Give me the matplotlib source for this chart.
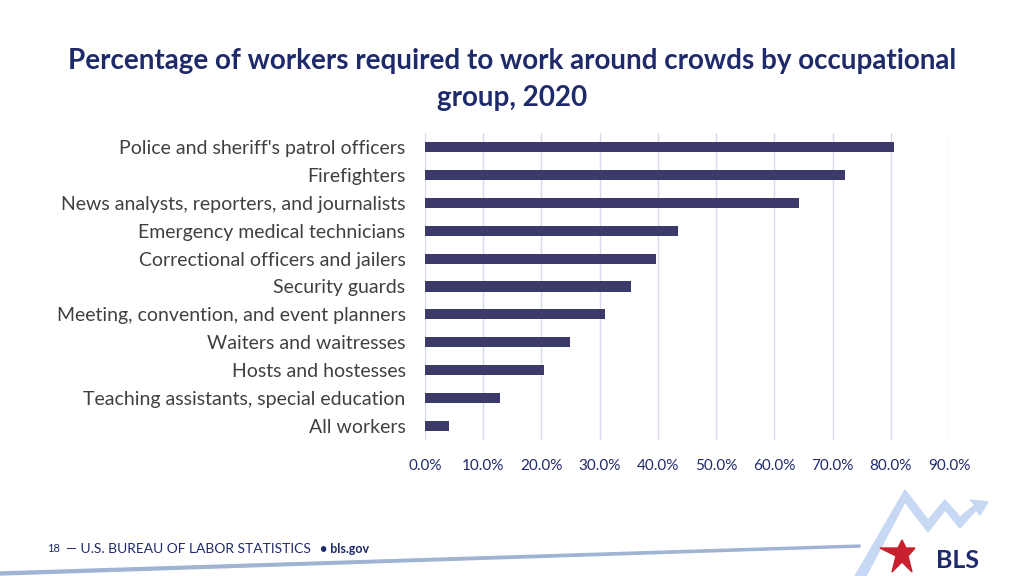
import matplotlib.pyplot as plt
from matplotlib.ticker import FuncFormatter
from matplotlib.patches import Polygon

# Data
occupations = [
    "Police and sheriff's patrol officers",
    "Firefighters",
    "News analysts, reporters, and journalists",
    "Emergency medical technicians",
    "Correctional officers and jailers",
    "Security guards",
    "Meeting, convention, and event planners",
    "Waiters and waitresses",
    "Hosts and hostesses",
    "Teaching assistants, special education",
    "All workers",
]
percent = [80.6, 72.1, 64.3, 43.5, 39.6, 35.4, 31.0, 24.9, 20.5, 12.8, 4.1]
x_ticks = [0, 10, 20, 30, 40, 50, 60, 70, 80, 90]

navy = '#1f2a6b'
bar_color = '#3c3a6a'

plt.rcParams['font.family'] = ['Lato', 'DejaVu Sans']

W, H = 1024, 576
fig = plt.figure(figsize=(10.24, 5.76), dpi=100)
ax = fig.add_axes([425 / W, 1 - 440 / H, (949 - 425) / W, (440 - 133) / H])

ypos = list(range(len(occupations)))
ax.barh(ypos, percent, height=0.36, color=bar_color, zorder=3)
ax.set_ylim(len(occupations) - 0.5, -0.5)
ax.set_xlim(0, 90)
ax.set_xticks(x_ticks)
ax.xaxis.set_major_formatter(FuncFormatter(lambda v, p: '{:.1f}%'.format(v)))
ax.set_yticks(ypos)
ax.set_yticklabels(occupations, fontsize=14, color='#404040')
ax.tick_params(axis='x', labelsize=11, labelcolor=navy, length=0, pad=14)
ax.tick_params(axis='y', length=0, pad=14)
ax.grid(axis='x', color='#d9d9ee', linewidth=1, zorder=0)
for s in ax.spines.values():
    s.set_visible(False)

fig.text(0.5, 1 - 61 / H, 'Percentage of workers required to work around crowds by occupational',
         ha='center', va='center', fontsize=20, fontweight='bold', color=navy)
fig.text(0.5, 1 - 98 / H, 'group, 2020',
         ha='center', va='center', fontsize=20, fontweight='bold', color=navy)

# footer
fy = 1 - 549 / H
fig.text(47 / W, fy, '18', fontsize=8, color=navy, va='center')
fig.text(66 / W, fy, '\u2014 U.S. BUREAU OF LABOR STATISTICS', fontsize=10, color=navy, va='center')
fig.text(320 / W, fy, '\u2022 bls.gov', fontsize=9, fontweight='bold', color=navy, va='center')

# decorative footer line and logo swoosh
def px(pts):
    return [(x / W, 1 - y / H) for x, y in pts]

fig.add_artist(Polygon(px([(0, 572), (860, 545), (860, 547), (0, 575)]),
                       closed=True, transform=fig.transFigure, color='#9fb3d3'))
fig.add_artist(Polygon(px([(855, 576), (905, 490), (928, 520), (945, 500), (960, 517),
                           (975, 505), (970, 500), (988, 502), (980, 515), (976, 510),
                           (960, 528), (945, 510), (928, 532), (905, 502), (866, 576)]),
                       closed=True, transform=fig.transFigure, color='#c6d8f3'))
fig.add_artist(Polygon(px([(880, 548), (898, 548), (902, 540), (906, 548), (915, 548),
                           (908, 556), (912, 572), (902, 562), (892, 572), (896, 556)]),
                       closed=True, transform=fig.transFigure, color='#c8202f'))
fig.text(957 / W, 1 - 560 / H, 'BLS', fontsize=18, fontweight='bold', color=navy,
         ha='center', va='center')

fig.savefig('out.png', dpi=100)
